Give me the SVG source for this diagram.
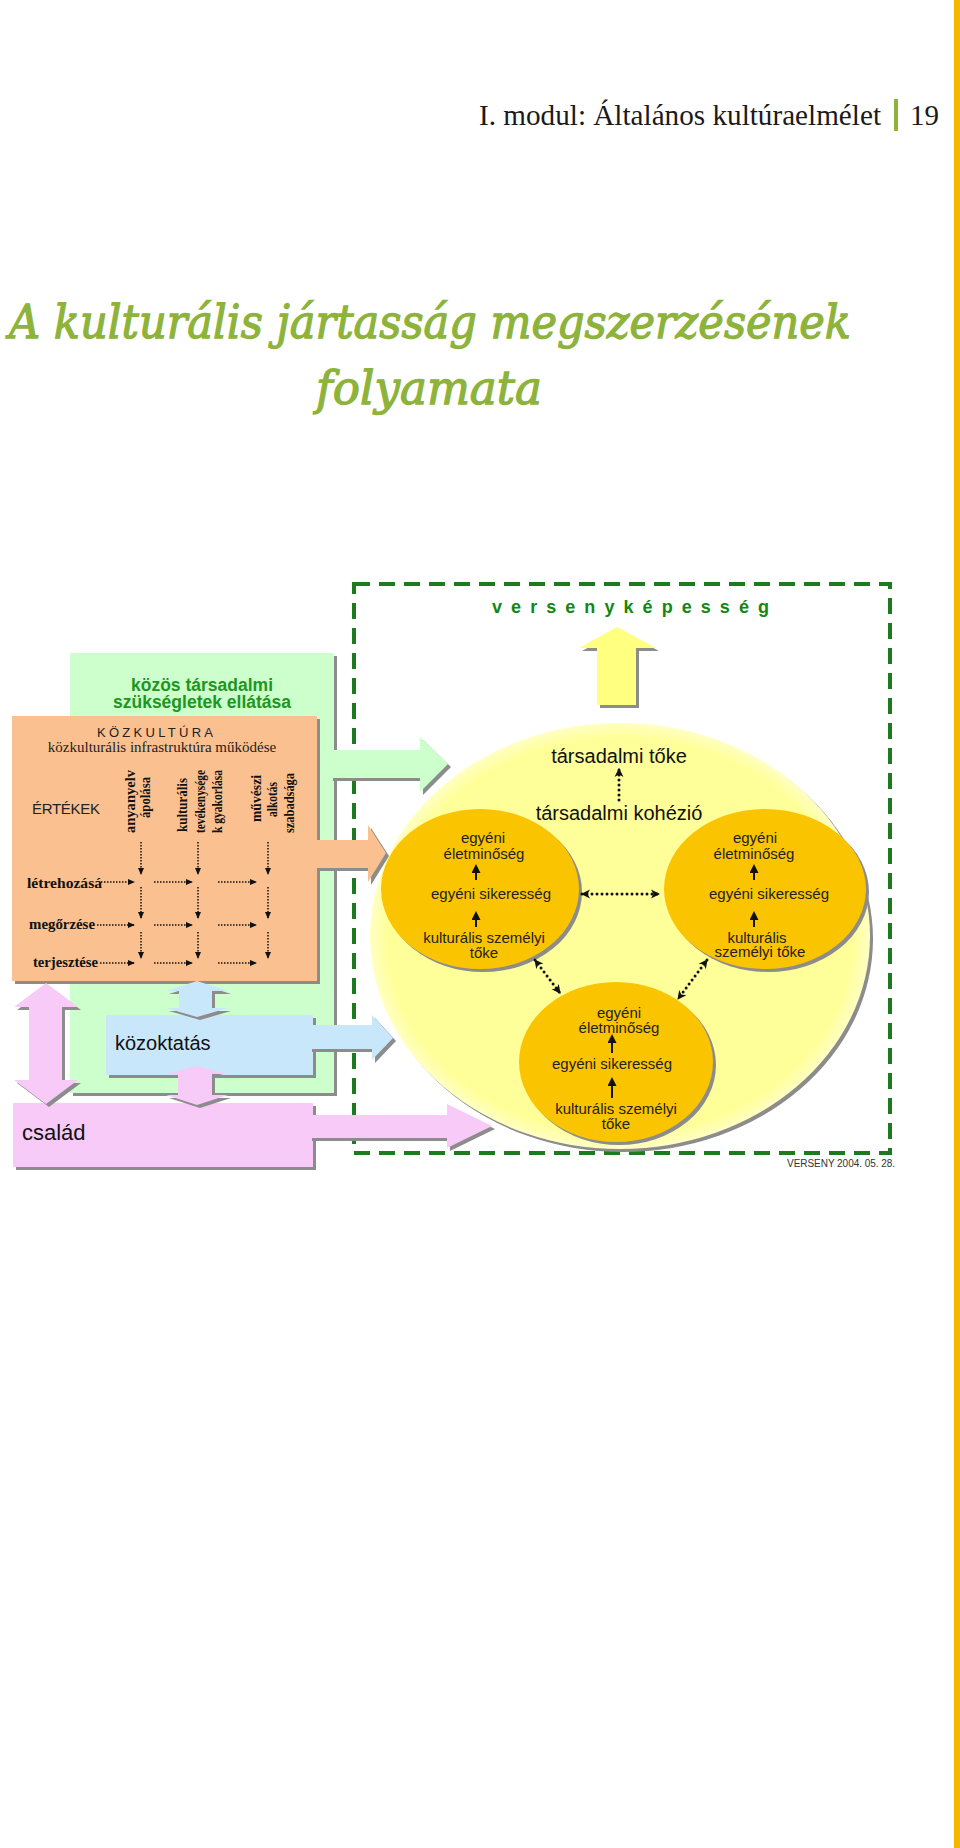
<svg xmlns="http://www.w3.org/2000/svg" width="960" height="1848" viewBox="0 0 960 1848">
<defs>
<style>
.sans{font-family:"Liberation Sans",Arial,sans-serif}
.serif{font-family:"Liberation Serif","Times New Roman",serif}
.slab{font-family:"DejaVu Serif",serif}
.shadow{fill:#8c8c8c}
.ctext{font-family:"Liberation Sans",Arial,sans-serif;font-size:15px;fill:#222;text-anchor:middle}
.col{font-family:"Liberation Serif","Times New Roman",serif;font-size:14px;font-weight:bold;fill:#111}
.row{font-family:"Liberation Serif","Times New Roman",serif;font-size:15px;font-weight:bold;fill:#111}
.gdot{fill:none;stroke:#111;stroke-width:1.5;stroke-dasharray:1.5 1.5;marker-end:url(#ah)}
.bdot{fill:none;stroke:#111;stroke-width:3;stroke-dasharray:0 5;stroke-linecap:round}
.solid{fill:none;stroke:#111;stroke-width:2;marker-end:url(#ah2)}
</style>
<marker id="ah" markerUnits="userSpaceOnUse" markerWidth="7" markerHeight="7" refX="6" refY="3.5" orient="auto"><path d="M0,0.5 L7,3.5 L0,6.5 z" fill="#111"/></marker>
<marker id="ah2" markerUnits="userSpaceOnUse" markerWidth="9" markerHeight="9" refX="7" refY="4.5" orient="auto"><path d="M0,0 L9,4.5 L0,9 z" fill="#111"/></marker>
<marker id="ah3" markerUnits="userSpaceOnUse" markerWidth="10" markerHeight="10" refX="8" refY="5" orient="auto-start-reverse"><path d="M0,0.5 L9,5 L0,9.5 L2.5,5 z" fill="#111"/></marker>
<radialGradient id="bigg" cx="0.5" cy="0.5" r="0.5">
<stop offset="0" stop-color="#FFFF99"/><stop offset="0.93" stop-color="#FFFF99"/><stop offset="1" stop-color="#FFFFC4"/>
</radialGradient>
</defs>
<rect x="0" y="0" width="960" height="1848" fill="#ffffff"/>
<rect x="954" y="0" width="6" height="1848" fill="#F5B800"/>

<g id="header">
<text class="serif" x="479" y="125" font-size="29" fill="#1a1a1a" textLength="402" lengthAdjust="spacingAndGlyphs">I. modul: Általános kultúraelmélet</text>
<rect x="894" y="99" width="4" height="32" fill="#8DB33A"/>
<text class="serif" x="910" y="125" font-size="29" fill="#1a1a1a" textLength="29" lengthAdjust="spacingAndGlyphs">19</text>
</g>

<g id="title" fill="#8DB33A" stroke="#8DB33A" stroke-width="1.3">
<text class="slab" x="9" y="338" font-size="47" font-style="italic" textLength="842" lengthAdjust="spacingAndGlyphs">A kulturális jártasság megszerzésének</text>
<text class="slab" x="316" y="404" font-size="47" font-style="italic" textLength="226" lengthAdjust="spacingAndGlyphs">folyamata</text>
</g>

<g id="node-versenykepesseg">
<rect x="354" y="584" width="536" height="569" fill="none" stroke="#1E7A1E" stroke-width="4" stroke-dasharray="16 9"/>
<text class="sans" x="492" y="613" font-size="18" font-weight="bold" fill="#118811" textLength="277">versenyképesség</text>
<text class="sans" x="787" y="1167" font-size="10" fill="#333" textLength="108">VERSENY 2004. 05. 28.</text>
</g>

<g id="node-kozos">
<rect class="shadow" x="73" y="656" width="264" height="440"/>
<rect x="70" y="653" width="264" height="440" fill="#CCFFCC"/>
<text class="sans" x="202" y="691" font-size="17.5" font-weight="bold" fill="#1E961E" text-anchor="middle">közös társadalmi</text>
<text class="sans" x="202" y="708" font-size="17.5" font-weight="bold" fill="#1E961E" text-anchor="middle">szükségletek ellátása</text>
</g>

<g id="node-kozkultura">
<rect class="shadow" x="15" y="719" width="305" height="265"/>
<rect x="12" y="716" width="305" height="265" fill="#FAC090"/>
<text class="sans" x="97" y="737" font-size="13" fill="#222" textLength="116">KÖZKULTÚRA</text>
<text class="serif" x="162" y="752" font-size="15" fill="#222" text-anchor="middle">közkulturális infrastruktúra működése</text>
<text class="sans" x="32" y="814" font-size="15" fill="#222" textLength="68">ÉRTÉKEK</text>
<text class="col" transform="translate(135,801.5) rotate(-90)" x="-31.5" textLength="63" lengthAdjust="spacingAndGlyphs">anyanyelv</text>
<text class="col" transform="translate(150,797.5) rotate(-90)" x="-20.5" textLength="41" lengthAdjust="spacingAndGlyphs">ápolása</text>
<text class="col" transform="translate(187,805) rotate(-90)" x="-27" textLength="54" lengthAdjust="spacingAndGlyphs">kulturális</text>
<text class="col" transform="translate(205,801.5) rotate(-90)" x="-31.5" textLength="63" lengthAdjust="spacingAndGlyphs">tevékenysége</text>
<text class="col" transform="translate(222,801.5) rotate(-90)" x="-31.5" textLength="63" lengthAdjust="spacingAndGlyphs">k gyakorlása</text>
<text class="col" transform="translate(261,798.5) rotate(-90)" x="-23.5" textLength="47" lengthAdjust="spacingAndGlyphs">művészi</text>
<text class="col" transform="translate(277,799.5) rotate(-90)" x="-17.5" textLength="35" lengthAdjust="spacingAndGlyphs">alkotás</text>
<text class="col" transform="translate(294,803) rotate(-90)" x="-30" textLength="60" lengthAdjust="spacingAndGlyphs">szabadsága</text>
<text class="row" x="27" y="888" textLength="75" lengthAdjust="spacingAndGlyphs">létrehozásá</text>
<text class="row" x="29" y="929" textLength="66" lengthAdjust="spacingAndGlyphs">megőrzése</text>
<text class="row" x="33" y="967" textLength="65" lengthAdjust="spacingAndGlyphs">terjesztése</text>
<g id="grid-arrows">
<path class="gdot" d="M101,882 H134"/><path class="gdot" d="M154,882 H192"/><path class="gdot" d="M218,882 H256"/>
<path class="gdot" d="M97,925 H134"/><path class="gdot" d="M154,925 H192"/><path class="gdot" d="M218,925 H256"/>
<path class="gdot" d="M100,963 H134"/><path class="gdot" d="M154,963 H192"/><path class="gdot" d="M218,963 H256"/>
<path class="gdot" d="M141,842 V874"/><path class="gdot" d="M141,887 V918"/><path class="gdot" d="M141,932 V958"/>
<path class="gdot" d="M198,842 V874"/><path class="gdot" d="M198,887 V918"/><path class="gdot" d="M198,932 V958"/>
<path class="gdot" d="M268,842 V874"/><path class="gdot" d="M268,887 V918"/><path class="gdot" d="M268,932 V958"/>
</g>
</g>

<g id="node-kozoktatas">
<rect class="shadow" x="109" y="1018" width="207" height="60"/>
<rect x="106" y="1015" width="207" height="60" fill="#C9E7FA"/>
<text class="sans" x="115" y="1050" font-size="20" fill="#111">közoktatás</text>
</g>

<g id="node-csalad">
<rect class="shadow" x="16" y="1106" width="300" height="64"/>
<rect x="13" y="1103" width="300" height="64" fill="#F8CAF8"/>
<text class="sans" x="22" y="1140" font-size="22" fill="#111">család</text>
</g>

<g id="node-tarsadalmi">
<ellipse class="shadow" cx="623" cy="939" rx="250" ry="213"/>
<ellipse cx="620" cy="936" rx="250" ry="213" fill="url(#bigg)"/>
<text class="sans" x="619" y="763" font-size="20" fill="#111" text-anchor="middle">társadalmi tőke</text>
<text class="sans" x="619" y="820" font-size="20" fill="#111" text-anchor="middle">társadalmi kohézió</text>
</g>

<g id="node-egyen1">
<ellipse class="shadow" cx="483" cy="892" rx="99" ry="80"/>
<ellipse cx="480" cy="889" rx="99" ry="80" fill="#FBC400"/>
<text class="ctext" x="483" y="843">egyéni</text>
<text class="ctext" x="484" y="859">életminőség</text>
<text class="ctext" x="491" y="899">egyéni sikeresség</text>
<text class="ctext" x="484" y="943">kulturális személyi</text>
<text class="ctext" x="484" y="958">tőke</text>
<path class="solid" d="M476,880 V866"/>
<path class="solid" d="M476,927 V913"/>
</g>

<g id="node-egyen2">
<ellipse class="shadow" cx="768" cy="892" rx="101" ry="80"/>
<ellipse cx="765" cy="889" rx="101" ry="80" fill="#FBC400"/>
<text class="ctext" x="755" y="843">egyéni</text>
<text class="ctext" x="754" y="859">életminőség</text>
<text class="ctext" x="769" y="899">egyéni sikeresség</text>
<text class="ctext" x="757" y="943">kulturális</text>
<text class="ctext" x="760" y="957">személyi tőke</text>
<path class="solid" d="M754,880 V866"/>
<path class="solid" d="M754,927 V913"/>
</g>

<g id="node-egyen3">
<ellipse class="shadow" cx="619" cy="1065" rx="97" ry="80"/>
<ellipse cx="616" cy="1062" rx="97" ry="80" fill="#FBC400"/>
<text class="ctext" x="619" y="1018">egyéni</text>
<text class="ctext" x="619" y="1033">életminőség</text>
<text class="ctext" x="612" y="1069">egyéni sikeresség</text>
<text class="ctext" x="616" y="1114">kulturális személyi</text>
<text class="ctext" x="616" y="1129">tőke</text>
<path class="solid" d="M612,1053 V1036"/>
<path class="solid" d="M612,1098 V1079"/>
</g>

<g id="connectors">
<g id="arrow-green">
<polygon class="shadow" transform="translate(3,3)" points="330,750 420,750 420,737 448,764 420,792 420,778 330,778"/>
<polygon fill="#CCFFCC" points="330,750 420,750 420,737 448,764 420,792 420,778 330,778"/>
</g>
<g id="arrow-peach">
<polygon class="shadow" transform="translate(3,3)" points="314,840 368,840 368,825 386,853 368,882 368,868 314,868"/>
<polygon fill="#FAC090" points="314,840 368,840 368,825 386,853 368,882 368,868 314,868"/>
</g>
<g id="arrow-blue">
<polygon class="shadow" transform="translate(3,3)" points="309,1025 372,1025 372,1015 393,1038 372,1060 372,1049 309,1049"/>
<polygon fill="#C9E7FA" points="309,1025 372,1025 372,1015 393,1038 372,1060 372,1049 309,1049"/>
</g>
<g id="arrow-pink">
<polygon class="shadow" transform="translate(3,3)" points="309,1115 447,1115 447,1104 492,1126 447,1148 447,1138 309,1138"/>
<polygon fill="#F8CAF8" points="309,1115 447,1115 447,1104 492,1126 447,1148 447,1138 309,1138"/>
</g>
<g id="arrow-blue-vertical">
<polygon class="shadow" transform="translate(3,3)" points="197,981 228,991 212,991 212,1008 228,1008 197,1017 166,1008 179,1008 179,991 166,991"/>
<polygon fill="#C9E7FA" points="197,981 228,991 212,991 212,1008 228,1008 197,1017 166,1008 179,1008 179,991 166,991"/>
</g>
<g id="arrow-pink-vertical">
<polygon class="shadow" transform="translate(3,3)" points="197,1066 228,1074 212,1074 212,1095 228,1095 197,1105 166,1095 178,1095 178,1074 166,1074"/>
<polygon fill="#F8CAF8" points="197,1066 228,1074 212,1074 212,1095 228,1095 197,1105 166,1095 178,1095 178,1074 166,1074"/>
</g>
<g id="arrow-pink-left">
<polygon class="shadow" transform="translate(3,3)" points="46,983 78,1007 62,1007 62,1080 78,1080 46,1104 14,1080 29,1080 29,1007 14,1007"/>
<polygon fill="#F8CAF8" points="46,983 78,1007 62,1007 62,1080 78,1080 46,1104 14,1080 29,1080 29,1007 14,1007"/>
</g>
<g id="arrow-yellow">
<polygon class="shadow" transform="translate(3,3)" points="597,705 597,648 579,648 617,627 656,648 636,648 636,705"/>
<polygon fill="#FFFF80" points="597,705 597,648 579,648 617,627 656,648 636,648 636,705"/>
</g>
<path class="bdot" marker-end="url(#ah3)" d="M619,800 V769"/>
<path class="bdot" marker-start="url(#ah3)" marker-end="url(#ah3)" d="M582,894 H659"/>
<path class="bdot" marker-start="url(#ah3)" marker-end="url(#ah3)" d="M535,960 L560,993"/>
<path class="bdot" marker-start="url(#ah3)" marker-end="url(#ah3)" d="M707,960 L678,999"/>
</g>
</svg>
